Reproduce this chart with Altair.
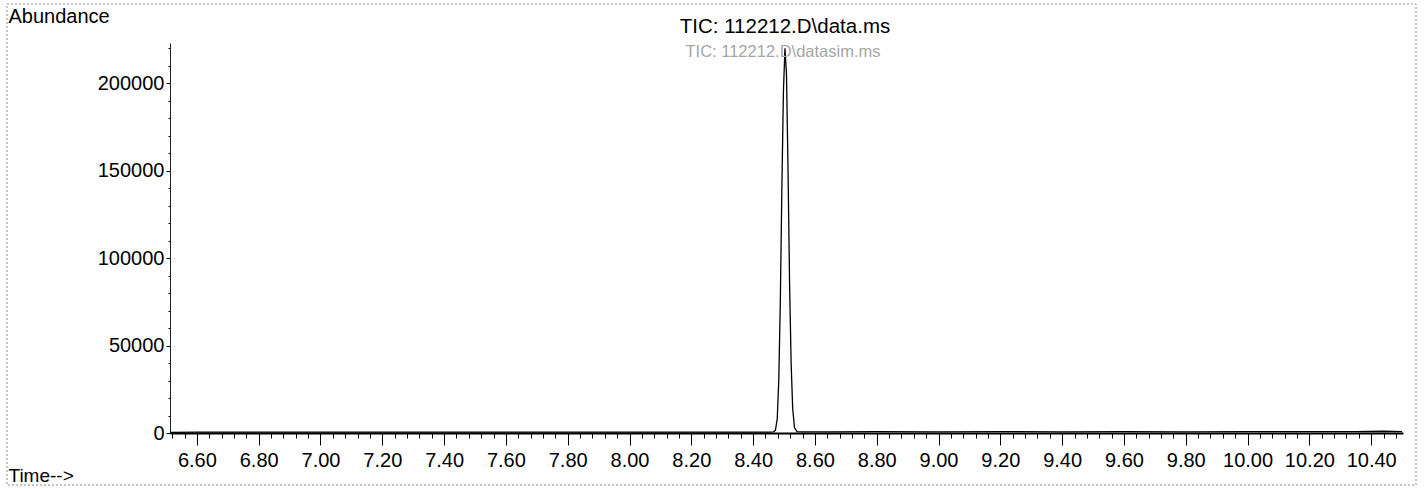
import altair as alt
import pandas as pd

# Total ion chromatogram: retention time (min) vs abundance
times = [6.513, 6.60, 6.75, 6.90, 7.05, 7.20, 7.40, 7.60, 7.80, 8.00, 8.20, 8.35, 8.45,
         8.465, 8.472, 8.478, 8.483, 8.488, 8.493, 8.498, 8.503, 8.508, 8.513, 8.518,
         8.523, 8.528, 8.534, 8.542, 8.56, 8.65, 8.80, 9.00, 9.20, 9.40, 9.60, 9.80,
         10.00, 10.20, 10.35, 10.44, 10.50]
abundance = [400, 500, 450, 550, 500, 450, 500, 550, 500, 450, 500, 550, 550,
             600, 1500, 8000, 30000, 75000, 140000, 195000, 220000, 205000, 150000, 85000,
             40000, 14000, 3000, 800, 600, 700, 800, 700, 800, 700, 750, 700,
             800, 750, 800, 1000, 800]

x_domain = [6.513, 10.503]
y_domain = [0, 223000]
x_ticks = [round(6.52 + 0.04 * i, 2) for i in range(100)]
y_ticks = [10000 * i for i in range(23)]

df = pd.DataFrame({"time": times, "abundance": abundance})

FONT = "Liberation Sans"
major_x = "abs(datum.value * 5 - round(datum.value * 5)) < 0.001"
major_y = "datum.value % 50000 == 0"

x_axis = alt.Axis(
    values=x_ticks,
    title="Time-->",
    titleX=-162, titleY=42, titleAlign="left", titleBaseline="middle",
    titleFont=FONT, titleFontSize=19, titleFontWeight="normal", titleColor="black",
    labelExpr=f"({major_x}) ? format(datum.value, '.2f') : ''",
    labelOverlap=False, labelFlush=False,
    labelFont=FONT, labelFontSize=20, labelColor="black", labelPadding=5,
    tickSize={"condition": {"test": major_x, "value": 12}, "value": 5},
    tickColor="black", tickWidth=1,
    domainColor="black", domainWidth=2, grid=False,
)

y_axis = alt.Axis(
    values=y_ticks,
    title="Abundance",
    titleAngle=0, titleX=-162, titleY=-27, titleAlign="left", titleBaseline="middle",
    titleFont=FONT, titleFontSize=20, titleFontWeight="normal", titleColor="black",
    labelExpr=f"({major_y}) ? format(datum.value, 'd') : ''",
    labelOverlap=False, labelFlush=False,
    labelFont=FONT, labelFontSize=20, labelColor="black", labelPadding=2,
    tickSize={"condition": {"test": major_y, "value": 4}, "value": 2},
    tickColor="black", tickWidth=1,
    domainColor="#222222", domainWidth=1, grid=False,
)

trace = alt.Chart(df).mark_line(color="black", strokeWidth=1.3).encode(
    x=alt.X("time:Q", scale=alt.Scale(domain=x_domain, nice=False, zero=False), axis=x_axis),
    y=alt.Y("abundance:Q", scale=alt.Scale(domain=y_domain, nice=False), axis=y_axis),
)

label_df = pd.DataFrame({
    "text": ["TIC: 112212.D\\data.ms", "TIC: 112212.D\\datasim.ms"],
})

title_main = alt.Chart(label_df.iloc[[0]]).mark_text(
    font=FONT, fontSize=20.5, color="black", align="center", baseline="middle"
).encode(text="text:N", x=alt.value(615), y=alt.value(-16))

title_sub = alt.Chart(label_df.iloc[[1]]).mark_text(
    font=FONT, fontSize=16.5, color="#a6a6a6", align="center", baseline="middle"
).encode(text="text:N", x=alt.value(613), y=alt.value(9))

# dotted frame around the whole report panel
frame = alt.Chart(label_df.iloc[[0]]).mark_rect(
    fill=None, stroke="#8a8a8a", strokeWidth=1, strokeDash=[2, 2]
).encode(x=alt.value(-163), x2=alt.value(1246), y=alt.value(-39), y2=alt.value(442))

chart = alt.layer(frame, trace, title_main, title_sub).properties(
    width=1233, height=390,
    padding={"left": 170, "top": 43, "right": 21, "bottom": 56},
    autosize=alt.AutoSizeParams(type="none"),
    background="white",
).configure_view(stroke=None)

chart.save("out.html", embed_options={"renderer": "svg", "actions": False})
